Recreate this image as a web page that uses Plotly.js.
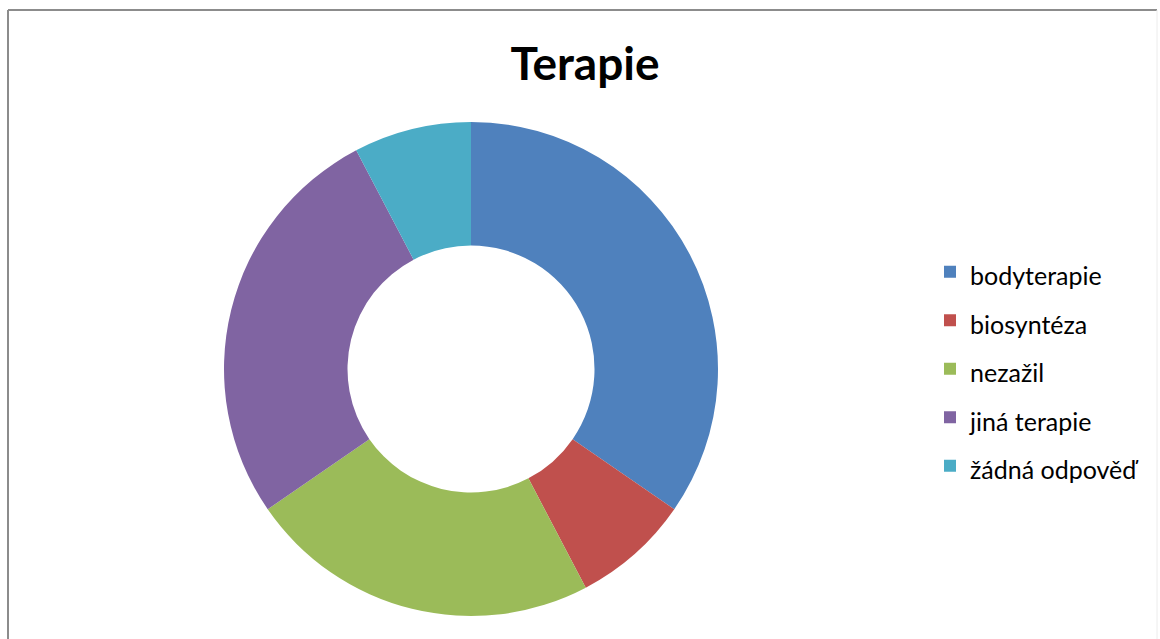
<!DOCTYPE html>
<html>
<head>
<meta charset="utf-8">
<script src="https://cdn.plot.ly/plotly-3.0.1.min.js"></script>
<style>html,body{margin:0;padding:0;background:#fff;}#chart{width:1160px;height:639px;}</style>
</head>
<body>
<div id="chart"></div>
<script>
const categories = ["bodyterapie", "biosyntéza", "nezažil", "jiná terapie", "žádná odpověď"];
const counts = [9, 2, 6, 7, 2];
const colors = ["#4F81BD", "#C0504D", "#9BBB59", "#8064A2", "#4BACC6"];
const chartTitle = "Terapie";

const W = 1160, H = 639;
const cx = 471, cy = 369, R = 247;

const trace = {
  type: "pie",
  labels: categories.map(c => '<span style="font-size:25px">' + c + '</span>'),
  values: counts,
  hole: 0.5,
  sort: false,
  direction: "clockwise",
  rotation: 0,
  marker: {colors: colors, line: {width: 0}},
  textinfo: "none",
  hoverinfo: "label+value+percent",
  domain: {x: [(cx - R) / W, (cx + R) / W], y: [(H - cy - R) / H, (H - cy + R) / H]}
};

const layout = {
  width: W, height: H,
  margin: {l: 0, r: 0, t: 0, b: 0, pad: 0},
  paper_bgcolor: "#ffffff",
  font: {family: "Lato, 'DejaVu Sans', sans-serif", color: "#000"},
  title: {
    text: "<b>" + chartTitle + "</b>",
    font: {family: "Lato, sans-serif", size: 46, color: "#000"},
    x: 585 / W, xanchor: "center",
    y: 1 - 64 / H, yanchor: "middle"
  },
  showlegend: true,
  legend: {
    x: 930 / W, xanchor: "left",
    y: 1 - 369 / H, yanchor: "middle",
    valign: "middle",
    font: {family: "Lato, sans-serif", size: 35, color: "#000"},
    bgcolor: "rgba(0,0,0,0)", borderwidth: 0
  },
  shapes: [
    {type: "line", xref: "paper", yref: "paper", x0: 8 / W, x1: 8 / W, y0: -0.05, y1: 1 - 10 / H,
     line: {color: "#8c8c8c", width: 2}},
    {type: "line", xref: "paper", yref: "paper", x0: 8 / W, x1: 1157 / W, y0: 1 - 10 / H, y1: 1 - 10 / H,
     line: {color: "#8c8c8c", width: 2}},
    {type: "line", xref: "paper", yref: "paper", x0: 1157 / W, x1: 1157 / W, y0: -0.05, y1: 1 - 10 / H,
     line: {color: "#ececec", width: 1}}
  ]
};

Plotly.newPlot("chart", [trace], layout, {displayModeBar: false});
</script>
</body>
</html>
